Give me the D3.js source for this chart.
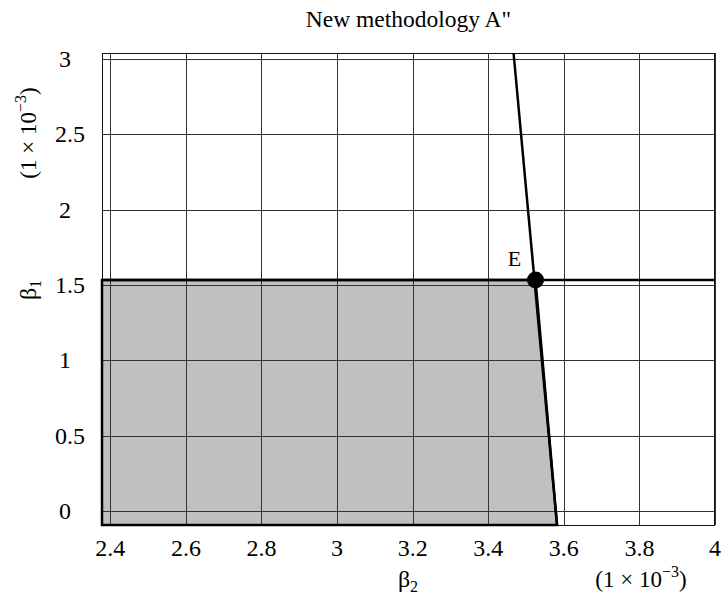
<!DOCTYPE html>
<html><head><meta charset="utf-8">
<script src="https://cdn.jsdelivr.net/npm/d3@7"></script>
<style>body{margin:0;background:#fff}svg{display:block}</style>
</head><body>
<script>
const xTicks = [2.4, 2.6, 2.8, 3.0, 3.2, 3.4, 3.6, 3.8, 4.0];
const yTicks = [0, 0.5, 1, 1.5, 2, 2.5, 3];
const xDomain = [2.378, 4.0];
const yDomain = [-0.093, 3.04];
const beta1Limit = 1.533;               // horizontal constraint
const steepLine = [[3.467, 3.04], [3.582, -0.093]]; // steep constraint
const pointE = [3.525, 1.533];
const feasible = [[2.378, -0.093], [2.378, 1.533], [3.525, 1.533], [3.582, -0.093]];

const FONT = "'Liberation Serif', 'Times New Roman', Times, serif";
const W = 722, H = 609;
const L = 102, R = 715, T = 53, B = 525;
const svg = d3.select("body").append("svg").attr("width", W).attr("height", H)
  .attr("font-family", FONT);
const x = d3.scaleLinear().domain(xDomain).range([L, R]);
const y = d3.scaleLinear().domain(yDomain).range([B, T]);

// feasible region
svg.append("path").attr("d", d3.line().x(d => x(d[0])).y(d => y(d[1]))(feasible) + "Z")
  .attr("fill", "#c0c0c0");

// grid
const g = svg.append("g").attr("stroke", "#333").attr("stroke-width", 1).attr("shape-rendering", "crispEdges");
g.selectAll(".vx").data(xTicks).join("line")
  .attr("x1", d => Math.round(x(d)) + 0.5).attr("x2", d => Math.round(x(d)) + 0.5)
  .attr("y1", T).attr("y2", B);
g.selectAll(".hy").data(yTicks).join("line")
  .attr("y1", d => Math.round(y(d)) + 0.5).attr("y2", d => Math.round(y(d)) + 0.5)
  .attr("x1", L).attr("x2", R);

// thin frame
svg.append("rect").attr("x", L + 0.5).attr("y", T + 0.5).attr("width", R - L - 1).attr("height", B - T)
  .attr("fill", "none").attr("stroke", "#111").attr("stroke-width", 1);

// outline of feasible region
svg.append("path").attr("d", d3.line().x(d => x(d[0])).y(d => y(d[1]))(feasible) + "Z")
  .attr("fill", "none").attr("stroke", "#000").attr("stroke-width", 2.5);

// constraint lines
svg.append("line").attr("x1", L).attr("x2", R).attr("y1", y(beta1Limit)).attr("y2", y(beta1Limit))
  .attr("stroke", "#000").attr("stroke-width", 2.5);
svg.append("line").attr("x1", x(steepLine[0][0])).attr("y1", y(steepLine[0][1]))
  .attr("x2", x(steepLine[1][0])).attr("y2", y(steepLine[1][1]))
  .attr("stroke", "#000").attr("stroke-width", 2.5);

// point E
svg.append("circle").attr("cx", x(pointE[0])).attr("cy", y(pointE[1])).attr("r", 8.5).attr("fill", "#000");
svg.append("text").attr("x", x(pointE[0]) - 21).attr("y", y(pointE[1]) - 14)
  .attr("text-anchor", "middle").attr("font-size", 22).text("E");

// tick labels
svg.selectAll(".xl").data(xTicks).join("text")
  .attr("x", d => x(d)).attr("y", 556).attr("text-anchor", "middle").attr("font-size", 24)
  .text(d => d3.format("~g")(d));
svg.selectAll(".yl").data(yTicks).join("text")
  .attr("x", d => Number.isInteger(d) ? 65 : 70).attr("y", d => y(d) + 8).attr("text-anchor", "middle").attr("font-size", 24)
  .text(d => d3.format("~g")(d));

// title
svg.append("text").attr("x", (L + R) / 2).attr("y", 27).attr("text-anchor", "middle").attr("font-size", 23.5)
  .text("New methodology A\"");

// x label
const xl = svg.append("text").attr("x", 408).attr("y", 587).attr("text-anchor", "middle").attr("font-size", 24);
xl.append("tspan").text("β");
xl.append("tspan").attr("font-size", 16).attr("dy", 5).text("2");
const xu = svg.append("text").attr("x", 641).attr("y", 587).attr("text-anchor", "middle").attr("font-size", 23);
xu.append("tspan").text("(1 × 10");
xu.append("tspan").attr("font-size", 16).attr("dy", -10).text("−3");
xu.append("tspan").attr("dy", 10).text(")");

// y label
const yl = svg.append("text").attr("transform", "translate(36,290) rotate(-90)").attr("text-anchor", "middle").attr("font-size", 24);
yl.append("tspan").text("β");
yl.append("tspan").attr("font-size", 16).attr("dy", 5).text("1");
const yu = svg.append("text").attr("transform", "translate(36,133) rotate(-90)").attr("text-anchor", "middle").attr("font-size", 23);
yu.append("tspan").text("(1 × 10");
yu.append("tspan").attr("font-size", 16).attr("dy", -10).text("−3");
yu.append("tspan").attr("dy", 10).text(")");
</script>
</body></html>
